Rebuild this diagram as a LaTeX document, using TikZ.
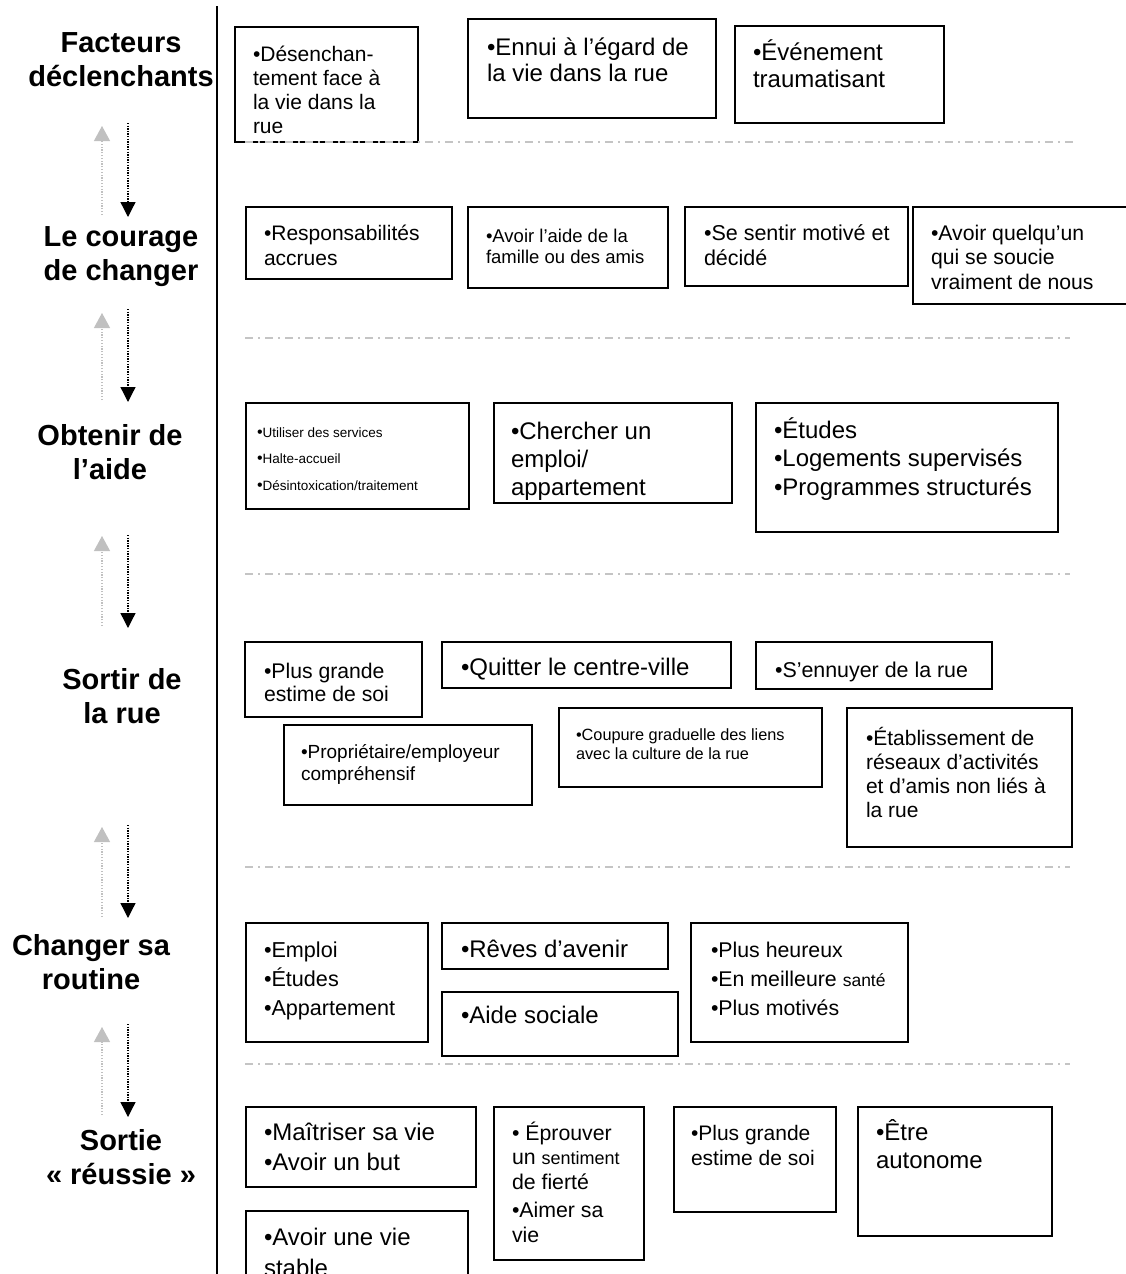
\documentclass[tikz,border=0pt]{standalone}
\usepackage{fontspec}
\setmainfont{Liberation Sans}
\usetikzlibrary{arrows.meta,fit}
\newcommand\fsz[2]{\fontsize{#1}{#2}\selectfont}
\newcommand\tstrut{\rule{0pt}{1em}}
\definecolor{sepgray}{RGB}{196,196,196}
\definecolor{arrgray}{RGB}{192,192,192}
\begin{document}
\begin{tikzpicture}[x=1pt,y=-1pt,
  bx/.style={draw=black, line width=1.7pt, inner sep=0pt, outer sep=0pt},
  tx/.style={anchor=north west, inner sep=0pt, outer sep=0pt, align=left},
  lab/.style={anchor=north, inner sep=0pt, outer sep=0pt, align=center, font=\fsz{29}{34}\bfseries},
  sep/.style={draw=sepgray, line width=1.5pt, dash pattern=on 8pt off 5pt on 2pt off 5pt},
  uparrow/.style={draw=arrgray, line width=1.2pt, dash pattern=on 1.2pt off 1.6pt, -{Triangle[width=16pt,length=15pt]}},
  downarrow/.style={draw=black, line width=1.3pt, dash pattern=on 1.3pt off 1.3pt, -{Triangle[width=15pt,length=15pt]}}
]
\useasboundingbox (0,0) rectangle (1126,1274);
\clip (0,0) rectangle (1126,1274);
\fill[white] (0,0) rectangle (1126,1274);

% vertical rule
\coordinate (vtop) at (217,6);
\coordinate (vbot) at (217,1280);
\draw[line width=1.8pt] (vtop) -- (vbot);

% stage labels
\node[lab] (l1) at (121,23) {\tstrut Facteurs\\déclenchants};
\node[lab] (l2) at (121,217) {\tstrut Le courage\\de changer};
\node[lab] (l3) at (110,416) {\tstrut Obtenir de\\l’aide};
\node[lab] (l4) at (122,660) {\tstrut Sortir de\\la rue};
\node[lab] (l5) at (91,926) {\tstrut Changer sa\\routine};
\node[lab] (l6) at (121,1121) {\tstrut Sortie\\«~réussie~»};

% arrows between stages
\coordinate (g1a) at (102,215);  \coordinate (g1b) at (102,126);
\coordinate (k1a) at (128,123);  \coordinate (k1b) at (128,217);
\coordinate (g2a) at (102,400);  \coordinate (g2b) at (102,313);
\coordinate (k2a) at (128,309);  \coordinate (k2b) at (128,402);
\coordinate (g3a) at (102,626);  \coordinate (g3b) at (102,536);
\coordinate (k3a) at (128,535);  \coordinate (k3b) at (128,628);
\coordinate (g4a) at (102,917);  \coordinate (g4b) at (102,827);
\coordinate (k4a) at (128,825);  \coordinate (k4b) at (128,918);
\coordinate (g5a) at (102,1115); \coordinate (g5b) at (102,1027);
\coordinate (k5a) at (128,1024); \coordinate (k5b) at (128,1117);
\foreach \i in {1,...,5}{
  \draw[uparrow] (g\i a) -- (g\i b);
  \draw[downarrow] (k\i a) -- (k\i b);
}

% ---------- Row 1 : Facteurs declenchants
\node[bx, fit={(235,27) (418,142)}] (b1) {};
\node[tx, font=\fsz{21}{24.3}] (t1) at (253,40) {\tstrut •Désenchan-\\tement face à\\la vie dans la\\rue};
\node[bx, fit={(468,19) (716,118)}] (b2) {};
\node[tx, font=\fsz{24}{26}] (t2) at (487,31) {\tstrut •Ennui à l’égard de\\la vie dans la rue};
\node[bx, fit={(735,26) (944,123)}] (b3) {};
\node[tx, font=\fsz{24}{27}] (t3) at (753,36) {\tstrut •Événement\\traumatisant};

% ---------- Row 2 : Le courage de changer
\node[bx, fit={(246,207) (452,279)}] (b4) {};
\node[tx, font=\fsz{21}{25}] (t4) at (264,219) {\tstrut •Responsabilités\\accrues};
\node[bx, fit={(468,207) (668,288)}] (b5) {};
\node[tx, font=\fsz{18.5}{21.5}] (t5) at (486,223.5) {\tstrut •Avoir l’aide de la\\famille ou des amis};
\node[bx, fit={(685,207) (908,286)}] (b6) {};
\node[tx, font=\fsz{21.5}{25}] (t6) at (704,218.5) {\tstrut •Se sentir motivé et\\décidé};
\node[bx, fit={(913,207) (1140,304)}] (b7) {};
\node[tx, font=\fsz{21.2}{24.5}] (t7) at (931,218.8) {\tstrut •Avoir quelqu’un\\qui se soucie\\vraiment de nous};

% ---------- Row 3 : Obtenir de l'aide
\node[bx, fit={(246,403) (469,509)}] (b8) {};
\node[tx, font=\fsz{13.5}{26.5}] (t8) at (257,423.5) {\tstrut {\fsz{16}{20}•}Utiliser des services\\{\fsz{16}{20}•}Halte-accueil\\{\fsz{16}{20}•}Désintoxication/traitement};
\node[bx, fit={(494,403) (732,503)}] (b9) {};
\node[tx, font=\fsz{24}{28}] (t9) at (511,415) {\tstrut •Chercher un\\emploi/\\appartement};
\node[bx, fit={(756,403) (1058,532)}] (b10) {};
\node[tx, font=\fsz{24}{28.5}] (t10) at (774,414) {\tstrut •Études\\•Logements supervisés\\•Programmes structurés};

% ---------- Row 4 : Sortir de la rue
\node[bx, fit={(245,642) (422,717)}] (b11) {};
\node[tx, font=\fsz{21.2}{23}] (t11) at (264,656.8) {\tstrut •Plus grande\\estime de soi};
\node[bx, fit={(442,642) (731,688)}] (b12) {};
\node[tx, font=\fsz{24}{27}] (t12) at (461,651) {\tstrut •Quitter le centre-ville};
\node[bx, fit={(756,642) (992,689)}] (b13) {};
\node[tx, font=\fsz{21.4}{25}] (t13) at (775,656) {\tstrut •S’ennuyer de la rue};
\node[bx, fit={(284,725) (532,805)}] (b14) {};
\node[tx, font=\fsz{19}{22}] (t14) at (301,739) {\tstrut •Propriétaire/employeur\\compréhensif};
\node[bx, fit={(559,708) (822,787)}] (b15) {};
\node[tx, font=\fsz{16.3}{19}] (t15) at (576,723.7) {\tstrut •Coupure graduelle des liens\\avec la culture de la rue};
\node[bx, fit={(847,708) (1072,847)}] (b16) {};
\node[tx, font=\fsz{21}{24}] (t16) at (866,724) {\tstrut •Établissement de\\réseaux d’activités\\et d’amis non liés à\\la rue};

% ---------- Row 5 : Changer sa routine
\node[bx, fit={(246,923) (428,1042)}] (b17) {};
\node[tx, font=\fsz{21.6}{29}] (t17) at (264,935.4) {\tstrut •Emploi\\•Études\\•Appartement};
\node[bx, fit={(442,923) (668,969)}] (b18) {};
\node[tx, font=\fsz{24}{27}] (t18) at (461,933) {\tstrut •Rêves d’avenir};
\node[bx, fit={(442,992) (678,1056)}] (b19) {};
\node[tx, font=\fsz{24}{27}] (t19) at (461,999) {\tstrut •Aide sociale};
\node[bx, fit={(691,923) (908,1042)}] (b20) {};
\node[tx, font=\fsz{21.3}{29}] (t20) at (711,935.7) {\tstrut •Plus heureux\\•En meilleure {\fsz{17.5}{20}santé}\\•Plus motivés};

% ---------- Row 6 : Sortie reussie
\node[bx, fit={(246,1107) (476,1187)}] (b21) {};
\node[tx, font=\fsz{24}{30}] (t21) at (264,1116) {\tstrut •Maîtriser sa vie\\•Avoir un but};
\node[bx, fit={(246,1211) (468,1300)}] (b22) {};
\node[tx, font=\fsz{24}{31}] (t22) at (264,1221) {\tstrut •Avoir une vie\\stable};
\node[bx, fit={(494,1107) (644,1260)}] (b23) {};
\node[tx, font=\fsz{21.3}{24.8}] (t23) at (512,1118.7) {\tstrut • Éprouver\\un {\fsz{18}{20}sentiment}\\de fierté\\[3.5pt]•Aimer sa\\vie};
\node[bx, fit={(674,1107) (836,1212)}] (b24) {};
\node[tx, font=\fsz{21}{25}] (t24) at (691,1119) {\tstrut •Plus grande\\estime de soi};
\node[bx, fit={(858,1107) (1052,1236)}] (b25) {};
\node[tx, font=\fsz{24}{28}] (t25) at (876,1116) {\tstrut •Être\\autonome};

% ---------- separators
\coordinate (s1a) at (245,142);  \coordinate (s1b) at (1074,142);
\coordinate (s2a) at (245,338);  \coordinate (s2b) at (1070,338);
\coordinate (s3a) at (245,574);  \coordinate (s3b) at (1070,574);
\coordinate (s4a) at (245,867);  \coordinate (s4b) at (1070,867);
\coordinate (s5a) at (245,1064); \coordinate (s5b) at (1070,1064);
\foreach \i in {1,...,5}{ \draw[sep] (s\i a) -- (s\i b); }
\end{tikzpicture}
\end{document}
